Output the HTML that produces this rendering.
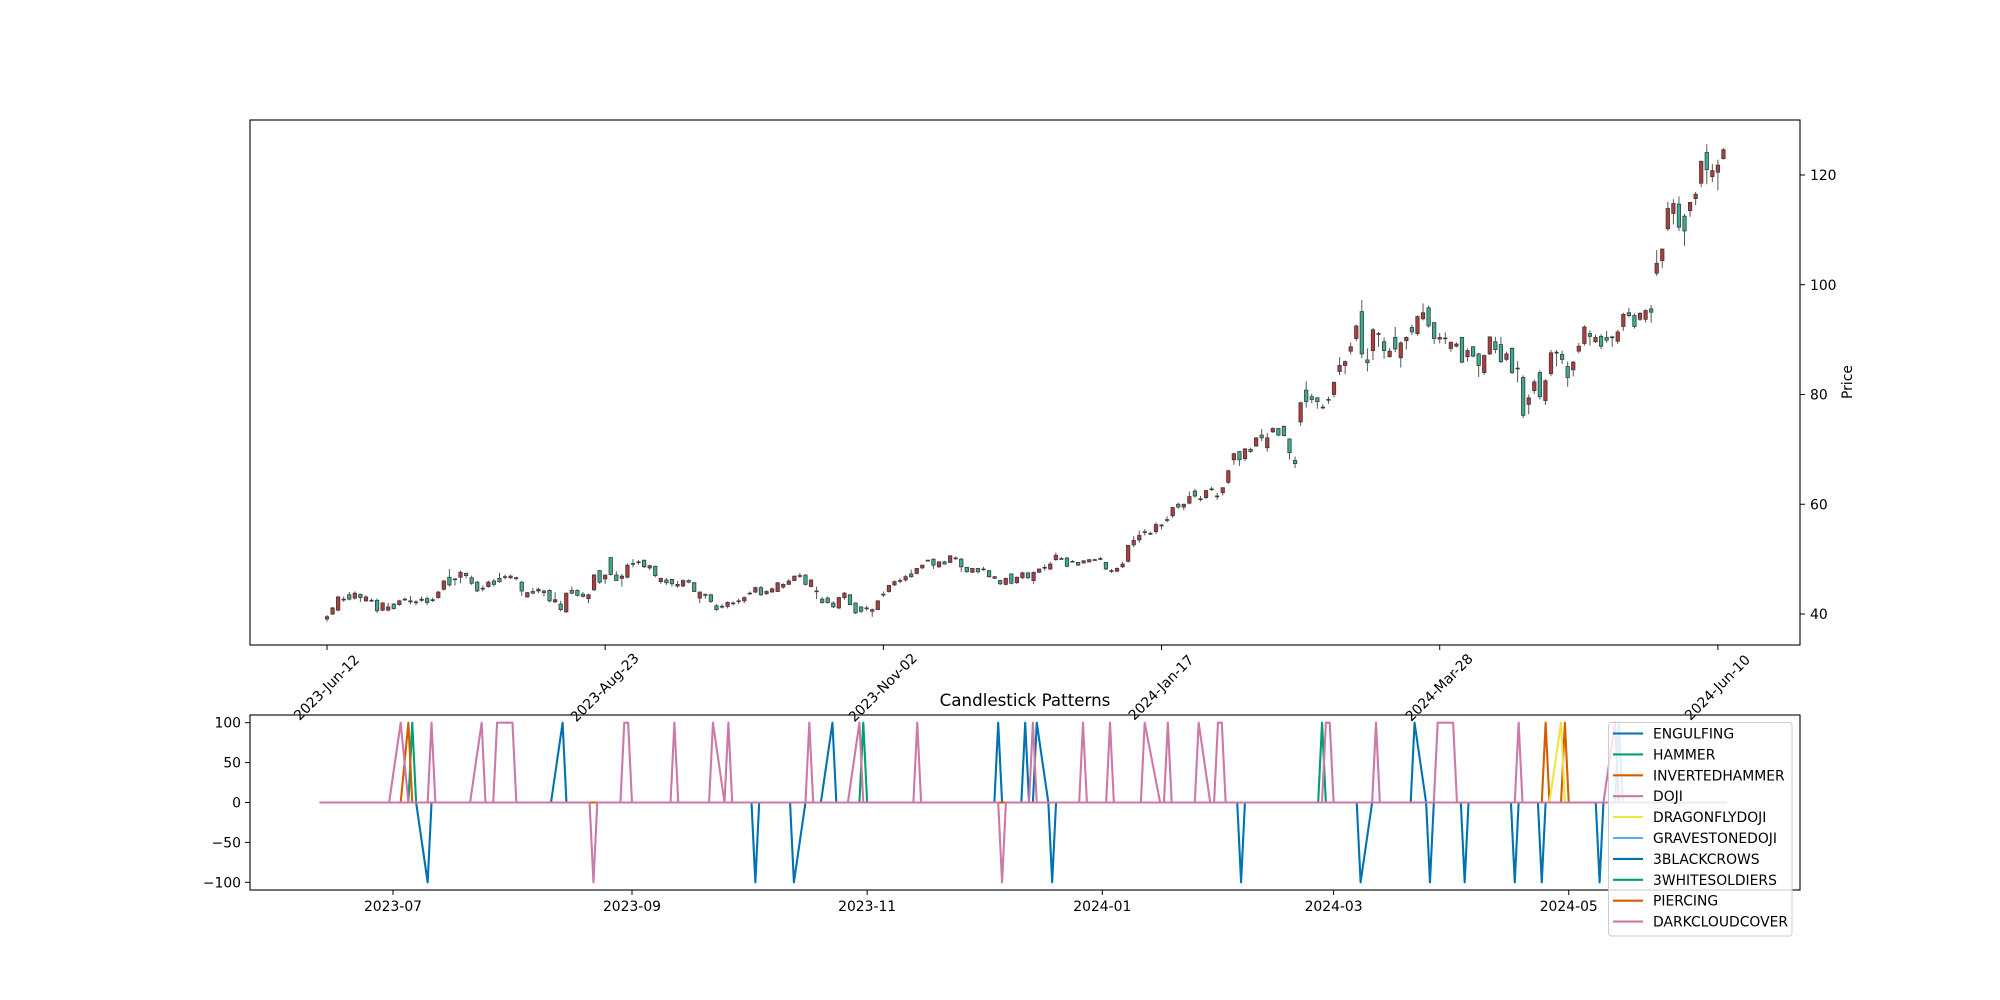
<!DOCTYPE html>
<html><head><meta charset="utf-8"><style>
html,body{margin:0;padding:0;background:#fff;}
svg{display:block;font-family:"DejaVu Sans","Liberation Sans",sans-serif;}
</style></head><body>
<svg id="chart" width="2000" height="1000" viewBox="0 0 2000 1000" xmlns="http://www.w3.org/2000/svg">
<rect x="0" y="0" width="2000" height="1000" fill="#fff"/>
<g id="main"></g>
<g id="pat"></g>
</svg>
<script>
const opens=[39.1,40,40.7,42.6,43.5,42.9,43.6,42.4,42.5,42.5,40.7,40.7,41.8,41.7,42.7,42.2,42.2,42.5,42.8,42.6,43,44.5,46.7,46.4,46.7,47.4,46.6,45.8,44.7,45,46,46.5,46.8,46.6,46.6,45.8,43.1,44.1,44.2,44.2,44.3,42.2,41.8,40.4,44.3,44.3,43.6,42.8,44.4,47.9,46.4,50.3,47.1,46.5,46.7,49.2,49.5,49.8,48.4,48.7,45.9,46.2,46.3,45.1,45.1,46.1,45.7,42.9,43.6,43.5,41.5,41.4,41.4,42,42.4,42.4,43.8,44,44.8,43.7,44,44.1,44.9,45.4,46.1,47,47.1,45,44.2,42.7,42.9,42,41.1,43,43.5,42,41.3,41.1,40.5,40.8,43.6,44.1,45.3,46.1,46.2,47.3,47.4,48.4,49.8,50,48.6,49.5,49.4,50.2,50,48.5,47.6,48.3,48.2,47.9,46.5,46.1,45.4,47.3,45.7,46.6,47.5,46.1,47.6,48.5,48.2,49.9,50.1,50.2,49.6,49.4,49.3,49.5,49.9,50,49.4,47.9,47.8,48.6,49.6,52.6,53.5,55,54.7,55,56.2,57.2,57.9,60,59.5,60.2,62.4,61,61.2,62.8,61.5,62.1,64,68.1,69.6,68.3,70,70.6,72.6,70.3,73.2,73.8,74.2,71.9,68,75,80.8,79.6,79.4,77.7,79.1,80,84.2,85.3,87.9,90.2,95.1,86.3,88,91.1,89.6,86.9,90.4,86.7,89.8,92.2,91.1,93.8,95.8,93.1,90.1,90.3,88.4,88.8,90.4,86.9,88.7,87.4,84,87.4,89.6,89.1,86.4,88.4,84.8,83.1,78.2,80.7,84,78.9,83.8,87.7,87.3,85.1,84.5,87.9,89.3,91.1,89.6,90.6,90.4,90.5,89.7,92.4,94.9,94.4,93.7,93.7,95.6,102.1,104.4,110.2,113,114.7,112.5,113.5,115.7,118.5,124.1,119.7,120.5,123];
const closes=[39.5,41.1,43.1,42.7,42.7,43.8,43,43.1,42.5,40.6,42,41.3,41,42.4,42.7,42.4,42.2,42.7,42.1,42.6,44,46,45.3,46.4,47.6,47,45.6,44.2,44.7,45.8,45.4,45.9,46.8,46.9,46.6,44.2,43.9,43.8,44.5,43.9,42.4,42.6,40.8,43.8,43.8,43.4,43.2,43.5,47.1,45.8,47.1,47.2,46.1,46.9,48.9,49.2,49.5,48.6,48.8,47,46.5,45.7,45.5,45.4,46.1,45.8,44.1,44,43.4,42.3,40.8,41.4,42.1,42,42.4,43,43.8,44.8,43.5,44.1,44.6,45.7,45.4,46,46.9,47,45.4,46.2,44.2,42.1,42.1,41.3,43,43.8,41.7,40.2,40.5,41.1,40.8,42.4,43.6,45.2,45.9,46.1,46.8,46.8,48.3,48.9,49.8,48.9,49.5,49.1,50.6,50.2,48.6,47.7,48.3,47.7,48.2,46.8,46.8,45.5,46.5,45.6,46.7,47.5,46.6,47.6,48.2,48.5,49.1,50.7,50.1,48.7,49.6,48.9,49.7,49.9,49.9,50.1,48.2,47.9,48.3,49.1,52.5,53.4,54.3,55,54.7,56.3,56.2,57.2,59.4,59.5,60,61.4,61.5,61,62.5,62.8,61.5,63,66.1,69.2,68.1,70.1,69.6,72.1,72.1,72.1,73.8,72.6,72.5,69.4,67.4,78.5,78.7,79.1,78.7,77.7,79.1,82.2,85.3,86,88.7,92.5,87.4,85.8,91.8,91.1,88,87.9,88.3,89.4,90.4,91.4,94.2,94.9,92.5,90.2,90.4,90.3,89.5,89.2,85.9,88,87,85.3,87.1,90.5,88.2,86,87.4,84,84.8,76.2,79.4,82.3,79.6,82.5,87.6,87.7,86.4,83.1,85.9,88.8,92.3,90.6,90.4,88.8,89.9,90.5,91.4,94.6,94.4,92.4,94.8,95.3,95,103.9,106.5,113.9,114.8,110.5,109.8,115,116.5,122.5,121,120.8,121.8,124.6];
const highs=[39.8,41.3,43.3,43.2,44,44.1,43.7,43.4,42.8,42.8,42.2,42,42,42.6,43,43.3,42.5,43.2,43.2,43,44.2,46.2,48.2,46.5,47.9,47.6,47,46,45.2,46.1,46.4,47.5,47.2,47.2,46.8,46,44,44.8,44.8,44.4,44.5,44,42.4,43.9,45,44.5,44,43.7,47.3,48,47.2,50.3,47.8,47.3,49.2,50,49.8,49.9,49,48.8,46.6,46.6,46.4,46,46.3,46.3,45.8,44.1,43.7,43.7,41.8,41.8,42.3,42.3,42.8,43.2,44.1,45,45.1,44.3,44.8,45.8,45.6,46.4,47,47.5,47.2,46.3,45,43.1,43.2,42.3,43.1,44,43.6,42.1,41.4,41.5,41,42.5,44.1,45.3,46.1,46.5,47.1,48.1,48.4,49,49.9,50.1,49.6,49.7,50.7,50.5,50.2,48.6,48.4,48.4,48.6,48,46.9,46.2,46.6,47.4,46.8,47.7,47.6,47.7,48.3,49,49.5,51.2,50.4,50.4,49.8,49.5,49.8,50,50.1,50.4,49.5,48.2,48.5,49.5,52.6,54.2,55.2,55.5,55,56.7,56.4,57.8,59.5,60.3,60.1,62.3,62.8,61.5,62.6,63.2,62.1,63.1,66.3,69.4,69.7,70.2,70.3,72.2,73.7,73,74,73.9,74.3,72,68.7,78.6,82.4,80.1,79.5,78.2,79.6,82.4,86.8,86.2,89.5,92.7,97.2,88.4,92.1,91.4,90.4,88.5,92.3,89.7,90.6,92.7,94.4,96.6,96.2,93.2,91.2,91.3,89.7,89.5,90.5,88.4,88.8,87.6,87.3,90.6,90.5,90.5,87.8,88.6,86.1,83.5,80,82.7,84.4,82.8,88.1,88.1,88,86,86.1,89.4,92.6,91.7,90.9,91,91.6,90.7,91.8,94.9,95.8,94.8,95,95.5,96.3,106.3,106.6,115.1,115.6,116.1,112.9,115.1,116.9,122.6,125.6,122,122.8,124.9];
const lows=[38.6,39.8,40.5,42.2,42.5,42.6,42.2,42.2,42.2,40.2,40.5,40.5,40.8,41.5,42.4,41.8,41.6,42.2,41.6,42.2,42.8,44.3,45,45.2,45.6,46.5,45.3,44,44.1,44.8,45,45.7,46.3,46.4,46.1,43.3,43,43.6,43.8,43.2,42.1,42,40.5,40.2,43.6,43.2,43,42,44.2,45.5,45.5,47,46,45,46.5,48.5,49,48.4,48,46.7,45.5,45.3,45,44.8,44.9,45.6,44,42,42.8,42,40.6,41,41,41.6,41.8,42,43.5,43.8,43.3,43.5,43.9,44,44.6,45.3,46,46.6,45.2,44.9,42.7,41.9,41.9,41.1,40.9,42.6,41.6,40,40.2,40.6,39.5,40.7,43.1,43.9,45.1,45.6,45.9,46.6,47.2,48.2,49.6,48.2,48.4,49,49.3,49.9,47.7,47.5,47.5,47.4,47.9,46.6,46.4,45.3,45.2,45.4,45.5,46.4,46.4,45.5,47.5,47.9,48,49.7,49.9,48.5,49.4,48.8,49.2,49.4,49.7,49.8,48,47.5,47.6,48.4,49.4,52.2,53,54.3,54.4,54.6,55.4,56.7,57.5,59.2,58.9,60,61.2,60.5,61,62.4,60.8,61.6,63.7,67.2,67,67.9,69.4,70.5,71.5,69.6,73,72.4,72.4,68.2,66.6,74.3,77.6,78.4,77.4,77.3,78.3,79.5,83.5,83.7,87.3,89.8,86.6,84.2,86.3,88.7,86.5,86.7,87.7,84.9,88.2,90.8,90.7,93.5,92.2,89.2,89.3,89.2,87.8,88.6,85.7,86,86.8,83.2,83.6,87.2,87.5,85.7,86.1,83.7,82.2,75.7,76.4,80.1,79.1,78.1,83.4,85.1,85.6,81.4,83.3,87.5,88.9,88.9,89.4,88.3,89.4,88.7,89.2,91.6,94.1,92,93.4,93.1,93.1,101.6,103.1,109.8,111,109.8,107.1,112.4,114.5,117.8,118.3,118.7,117.2,122.8];
const priceTicks=[40,60,80,100,120];
const dateTickIdx=[0,50,100,150,200,250];
const dateTickLabels=["2023-Jun-12","2023-Aug-23","2023-Nov-02","2024-Jan-17","2024-Mar-28","2024-Jun-10"];

// Pattern panel data
const patternNames=["ENGULFING","HAMMER","INVERTEDHAMMER","DOJI","DRAGONFLYDOJI","GRAVESTONEDOJI","3BLACKCROWS","3WHITESOLDIERS","PIERCING","DARKCLOUDCOVER"];
const patternColors=["#0072b2","#009e73","#d55e00","#cc79a7","#f0e442","#56b4e9","#0072b2","#009e73","#d55e00","#cc79a7"];
const engulfingDates=["2023-07-10","2023-08-14","2023-10-03","2023-10-13","2023-10-23","2023-12-05","2023-12-12","2023-12-15","2023-12-19","2024-02-06","2024-03-08","2024-03-22","2024-03-26","2024-04-04","2024-04-17","2024-04-24","2024-05-09"];
const engulfingVals=[-100,100,-100,-100,100,100,100,100,-100,-100,-100,100,-100,-100,-100,-100,-100];
const hammerDates=["2023-07-06","2023-10-31","2024-02-27"];
const hammerVals=[100,100,100];
const invHammerDates=["2023-07-05","2024-04-25","2024-04-30"];
const invHammerVals=[100,100,100];
const dojiDates=["2023-07-03","2023-07-11","2023-07-24","2023-07-28","2023-07-31","2023-08-01","2023-08-30","2023-08-31","2023-09-12","2023-09-22","2023-09-26","2023-10-17","2023-10-30","2023-11-14","2023-12-14","2023-12-27","2024-01-03","2024-01-12","2024-01-18","2024-01-26","2024-01-31","2024-02-01","2024-02-28","2024-02-29","2024-03-12","2024-03-28","2024-04-01","2024-04-18","2024-05-13"];
const dojiVals=[100,100,100,100,100,100,100,100,100,100,100,100,100,100,100,100,100,100,100,100,100,100,100,100,100,100,100,100,100];
const dragonflyDates=["2024-04-29"];
const dragonflyVals=[100];
const gravestoneDates=["2024-05-14"];
const gravestoneVals=[100];
const blackCrowsDates=[];const blackCrowsVals=[];
const whiteSoldiersDates=[];const whiteSoldiersVals=[];
const piercingDates=[];const piercingVals=[];
const darkCloudDates=["2023-08-22","2023-12-06"];
const darkCloudVals=[-100,-100];
const patYTicks=[100,50,0,-50,-100];
const patXTickDates=["2023-07-01","2023-09-01","2023-11-01","2024-01-01","2024-03-01","2024-05-01"];
const patXTickLabels=["2023-07","2023-09","2023-11","2024-01","2024-03","2024-05"];

const NS="http://www.w3.org/2000/svg";
function mk(tag,attrs,parent,txt){const e=document.createElementNS(NS,tag);for(const k in attrs)e.setAttribute(k,attrs[k]);if(txt!==undefined)e.textContent=txt;parent.appendChild(e);return e;}
const main=document.getElementById('main');
const pat=document.getElementById('pat');
const FS=13.9;

// ---------- main price panel ----------
const L=250,R=1800,T=120,B=645;
const xI=i=>327+i*5.5636;
const yP=p=>614-(p-40)*5.4875;
for(let i=0;i<opens.length;i++){
  const o=opens[i],c=closes[i],up=c>=o;
  const w=mk('line',{x1:xI(i),x2:xI(i),y1:yP(highs[i]),y2:yP(lows[i]),stroke:'#555','stroke-width':1},main);
  
  
  const top=yP(Math.max(o,c)),bot=yP(Math.min(o,c));
  const r=mk('rect',{x:xI(i)-1.7,y:top,width:3.4,height:Math.max(bot-top,0.8),fill:up?'#b53a3a':'#3aae92',stroke:'#3b3b3b','stroke-width':0.8},main);
  
  
}
const frame=mk('rect',{x:L,y:T,width:R-L,height:B-T,fill:'none',stroke:'#000','stroke-width':1.1},main);


priceTicks.forEach(p=>{
  const t=mk('line',{x1:R,x2:R+5,y1:yP(p),y2:yP(p),stroke:'#000','stroke-width':1},main);
  
  
  const l=mk('text',{x:R+10,y:yP(p)+5,'font-size':FS,fill:'#000'},main,String(p));
  
  
});
const pl=mk('text',{x:1852,y:382,'font-size':FS,'text-anchor':'middle',transform:'rotate(-90 1852 382)'},main,'Price');


dateTickIdx.forEach((idx,k)=>{
  const x=xI(idx);
  const t=mk('line',{x1:x,x2:x,y1:B,y2:B+5,stroke:'#000','stroke-width':1},main);
  
  
  const cy=688;
  const l=mk('text',{x:x,y:cy,'font-size':FS,'text-anchor':'middle','dominant-baseline':'central',transform:`rotate(-45 ${x} ${cy})`},main,dateTickLabels[k]);
  
  
});

// ---------- pattern panel ----------
const PL=250,PR=1800,PT=715,PB=890;
const day0=Date.UTC(2024,0,1);
const toMs=s=>{const a=s.split('-').map(Number);return Date.UTC(a[0],a[1]-1,a[2]);};
const xD=ms=>1102.3+(ms-day0)/86400000*3.855;
const yB=v=>802.5-v*0.798;
const holidays=["2023-06-19","2023-07-04","2023-09-04","2023-11-23","2023-12-25","2024-01-01","2024-01-15","2024-02-19","2024-03-29","2024-05-27"];
const tdays=[];
for(let ms=toMs("2023-06-12");ms<=toMs("2024-06-11");ms+=86400000){
  const d=new Date(ms),wd=d.getUTCDay();
  const s=d.toISOString().slice(0,10);
  if(wd>0&&wd<6&&holidays.indexOf(s)<0)tdays.push(s);
}
const seriesDates=[engulfingDates,hammerDates,invHammerDates,dojiDates,dragonflyDates,gravestoneDates,blackCrowsDates,whiteSoldiersDates,piercingDates,darkCloudDates];
const seriesVals=[engulfingVals,hammerVals,invHammerVals,dojiVals,dragonflyVals,gravestoneVals,blackCrowsVals,whiteSoldiersVals,piercingVals,darkCloudVals];
const cp=mk('clipPath',{id:'pclip'},pat);mk('rect',{x:PL,y:PT,width:PR-PL,height:PB-PT},cp);
seriesDates.forEach((dates,s)=>{
  const pts=tdays.map(d=>{const k=dates.indexOf(d);const v=k>=0?seriesVals[s][k]:0;return xD(toMs(d)).toFixed(2)+','+yB(v).toFixed(2);});
  const pl=mk('polyline',{points:pts.join(' '),fill:'none',stroke:patternColors[s],'stroke-width':2.1,'stroke-linejoin':'round','clip-path':'url(#pclip)'},pat);
  
  
});
const pf=mk('rect',{x:PL,y:PT,width:PR-PL,height:PB-PT,fill:'none',stroke:'#000','stroke-width':1.1},pat);


patYTicks.forEach(v=>{
  const t=mk('line',{x1:PL-5,x2:PL,y1:yB(v),y2:yB(v),stroke:'#000','stroke-width':1},pat);
  
  
  const l=mk('text',{x:PL-9,y:yB(v)+5,'font-size':FS,'text-anchor':'end'},pat,v<0?'\u2212'+Math.abs(v):String(v));
  
  
});
patXTickDates.forEach((d,k)=>{
  const x=xD(toMs(d));
  const t=mk('line',{x1:x,x2:x,y1:PB,y2:PB+5,stroke:'#000','stroke-width':1},pat);
  
  
  const l=mk('text',{x:x,y:PB+21,'font-size':FS,'text-anchor':'middle'},pat,patXTickLabels[k]);
  
  
});
const ti=mk('text',{x:(PL+PR)/2,y:706,'font-size':16.7,'text-anchor':'middle'},pat,'Candlestick Patterns');


// legend
const lg=mk('g',{},pat);


const lb=mk('rect',{x:1608.5,y:722.5,width:183.5,height:213.5,rx:3,fill:'#fff','fill-opacity':0.8,stroke:'#cccccc','stroke-width':1},lg);


patternNames.forEach((n,k)=>{
  const y=733.5+k*20.9;
  const ln=mk('line',{x1:1613,x2:1643,y1:y,y2:y,stroke:patternColors[k],'stroke-width':2.1},lg);
  
  
  const tx=mk('text',{x:1653,y:y+5,'font-size':FS},lg,n);
  
  
});
</script>
</body></html>
